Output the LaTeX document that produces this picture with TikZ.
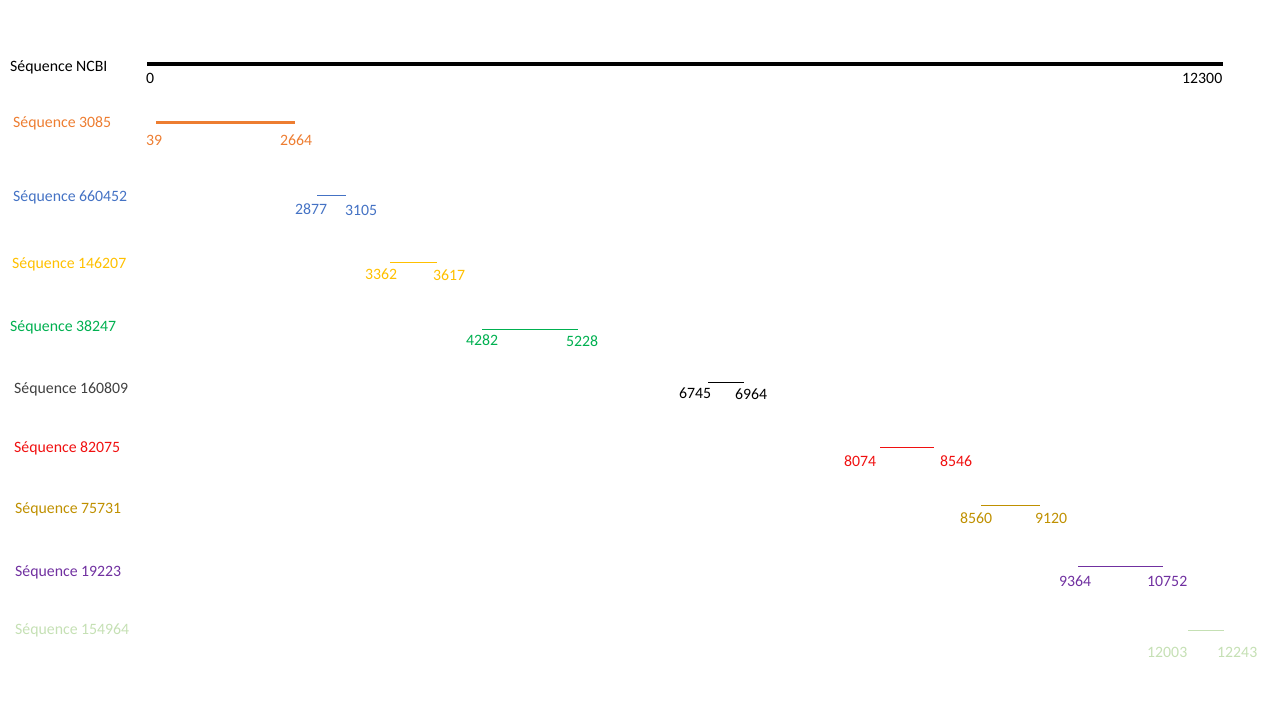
\documentclass[tikz,border=0pt]{standalone}
\usepackage{fontspec}
\setmainfont{Carlito}
\usepackage{xcolor}
\usepackage{tikz}
\definecolor{seqorange}{HTML}{ED7D31}
\definecolor{seqblue}{HTML}{4472C4}
\definecolor{seqyellow}{HTML}{FFC000}
\definecolor{seqgreen}{HTML}{00B050}
\definecolor{seqgrey}{HTML}{404040}
\definecolor{seqred}{HTML}{F01010}
\definecolor{seqgold}{HTML}{BF9000}
\definecolor{seqpurple}{HTML}{7030A0}
\definecolor{seqlight}{HTML}{C5E0B4}

\begin{document}
\begin{tikzpicture}[x=1pt,y=-1pt,
    every node/.style={font=\fontsize{15.8}{19}\selectfont,inner sep=0pt,anchor=base west},
    seg/.style={line width=1pt}]
  \useasboundingbox (0,0) rectangle (1280,720);
  % reference sequence
  \node (ncbi) at (10,71) {Séquence NCBI};
  \coordinate (ncbiA) at (147,64);
  \coordinate (ncbiB) at (1223,64);
  \draw[line width=4pt] (ncbiA) -- (ncbiB);
  \node (ncbiS) at (146,83) {0};
  \node (ncbiE) at (1182,83) {12300};
  % sequence 3085
  \node[seqorange] (s3085) at (13,127) {Séquence 3085};
  \coordinate (s3085A) at (156,122);
  \coordinate (s3085B) at (295,122);
  \draw[seqorange,line width=3pt] (s3085A) -- (s3085B);
  \node[seqorange] (s3085S) at (146,145) {39};
  \node[seqorange] (s3085E) at (280,145) {2664};
  % sequence 660452
  \node[seqblue] (s660452) at (13,201) {Séquence 660452};
  \coordinate (s660452A) at (317,195);
  \coordinate (s660452B) at (346,195);
  \draw[seqblue,seg] (s660452A) -- (s660452B);
  \node[seqblue] (s660452S) at (295,214) {2877};
  \node[seqblue] (s660452E) at (345,215) {3105};
  % sequence 146207
  \node[seqyellow] (s146207) at (12,268) {Séquence 146207};
  \coordinate (s146207A) at (390,262);
  \coordinate (s146207B) at (437,262);
  \draw[seqyellow,seg] (s146207A) -- (s146207B);
  \node[seqyellow] (s146207S) at (365,279) {3362};
  \node[seqyellow] (s146207E) at (433,280) {3617};
  % sequence 38247
  \node[seqgreen] (s38247) at (10,331) {Séquence 38247};
  \coordinate (s38247A) at (482,329);
  \coordinate (s38247B) at (578,329);
  \draw[seqgreen,seg] (s38247A) -- (s38247B);
  \node[seqgreen] (s38247S) at (466,345) {4282};
  \node[seqgreen] (s38247E) at (566,346) {5228};
  % sequence 160809
  \node[seqgrey] (s160809) at (14,393) {Séquence 160809};
  \coordinate (s160809A) at (708,382);
  \coordinate (s160809B) at (744,382);
  \draw[black,seg] (s160809A) -- (s160809B);
  \node (s160809S) at (679,398) {6745};
  \node (s160809E) at (735,399) {6964};
  % sequence 82075
  \node[seqred] (s82075) at (14,452) {Séquence 82075};
  \coordinate (s82075A) at (880,447);
  \coordinate (s82075B) at (934,447);
  \draw[seqred,seg] (s82075A) -- (s82075B);
  \node[seqred] (s82075S) at (844,466) {8074};
  \node[seqred] (s82075E) at (940,466) {8546};
  % sequence 75731
  \node[seqgold] (s75731) at (15,513) {Séquence 75731};
  \coordinate (s75731A) at (981,505);
  \coordinate (s75731B) at (1040,505);
  \draw[seqgold,seg] (s75731A) -- (s75731B);
  \node[seqgold] (s75731S) at (960,523) {8560};
  \node[seqgold] (s75731E) at (1035,523) {9120};
  % sequence 19223
  \node[seqpurple] (s19223) at (15,576) {Séquence 19223};
  \coordinate (s19223A) at (1078,566);
  \coordinate (s19223B) at (1163,566);
  \draw[seqpurple,seg] (s19223A) -- (s19223B);
  \node[seqpurple] (s19223S) at (1059,586) {9364};
  \node[seqpurple] (s19223E) at (1147,586) {10752};
  % sequence 154964
  \node[seqlight] (s154964) at (15,634) {Séquence 154964};
  \coordinate (s154964A) at (1188,630);
  \coordinate (s154964B) at (1224,630);
  \draw[seqlight,seg] (s154964A) -- (s154964B);
  \node[seqlight] (s154964S) at (1147,657) {12003};
  \node[seqlight] (s154964E) at (1217,657) {12243};
\end{tikzpicture}
\end{document}
